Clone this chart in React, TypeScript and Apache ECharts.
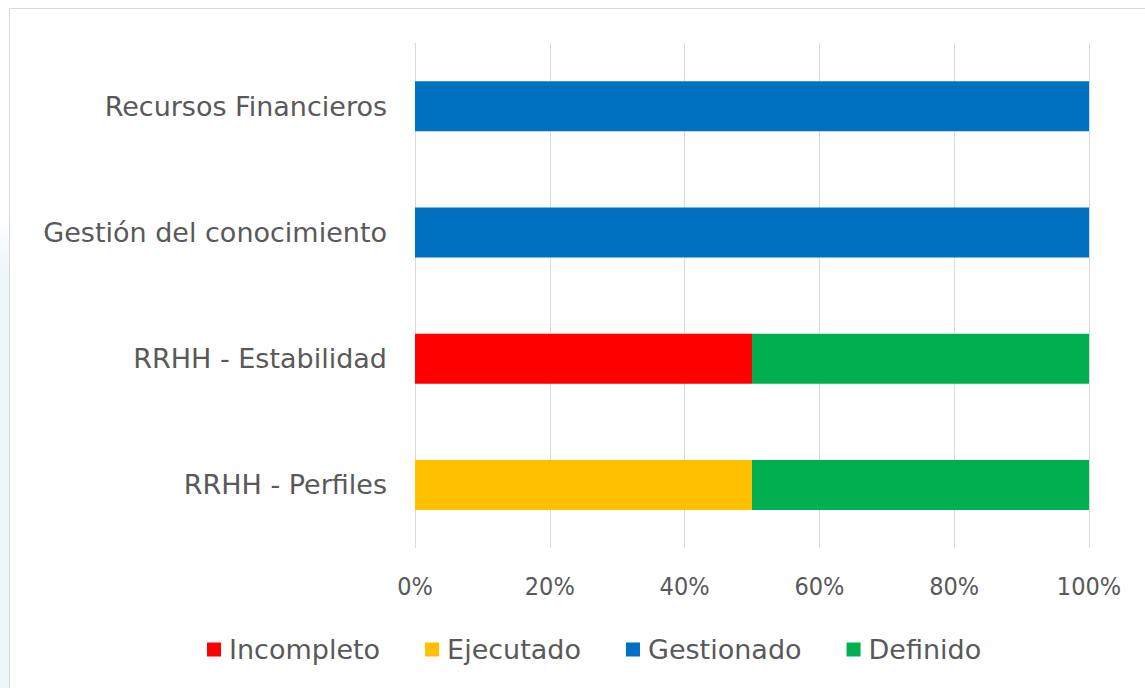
import React, { useEffect, useRef } from "react";
import * as echarts from "echarts";

const categories = ["Recursos Financieros", "Gestión del conocimiento", "RRHH - Estabilidad", "RRHH - Perfiles"];
const incompleto = [0, 0, 50, 0];
const ejecutado = [0, 0, 0, 50];
const gestionado = [100, 100, 0, 0];
const definido = [0, 0, 50, 50];
const seriesNames = ["Incompleto", "Ejecutado", "Gestionado", "Definido"];
const seriesColors = ["#FF0000", "#FFC000", "#0070C0", "#00B050"];
const xTicks = [0, 20, 40, 60, 80, 100];

const FONT = "DejaVu Sans";
const AXFONT = "DejaVu Sans Condensed";

export default function App() {
  const ref = useRef<HTMLDivElement>(null);
  useEffect(() => {
    if (!ref.current) return;
    const chart = echarts.init(ref.current, undefined, { renderer: "svg" });
    const values = [incompleto, ejecutado, gestionado, definido];
    chart.setOption({
      animation: false,
      backgroundColor: "#ffffff",
      textStyle: { fontFamily: FONT },
      graphic: [
        {
          type: "rect",
          shape: { x: 0, y: 220, width: 9, height: 468 },
          style: {
            fill: new echarts.graphic.LinearGradient(0, 0, 0, 1, [
              { offset: 0, color: "rgba(225,238,246,0)" },
              { offset: 0.15, color: "#eef5f9" },
              { offset: 1, color: "#eef5f9" },
            ]),
          },
          silent: true,
        },
        {
          type: "rect",
          shape: { x: 9.5, y: 8.5, width: 1200, height: 700 },
          style: { fill: "none", stroke: "#d9d9d9", lineWidth: 1 },
          silent: true,
        },
      ],
      grid: { left: 415, right: 56, top: 43, bottom: 140, containLabel: false },
      xAxis: {
        type: "value",
        min: xTicks[0],
        max: xTicks[xTicks.length - 1],
        interval: 20,
        axisLine: { show: false },
        axisTick: { show: false },
        splitLine: { show: true, lineStyle: { color: "#d9d9d9", width: 1 } },
        axisLabel: {
          formatter: "{value}%",
          color: "#595959",
          fontSize: 25,
          fontFamily: AXFONT,
          margin: 26,
        },
      },
      yAxis: {
        type: "category",
        data: categories,
        inverse: true,
        axisLine: { show: false },
        axisTick: { show: false },
        axisLabel: { color: "#595959", fontSize: 27, fontFamily: FONT, margin: 28 },
      },
      legend: {
        data: seriesNames,
        left: 202,
        top: 631,
        icon: "rect",
        itemWidth: 14,
        itemHeight: 14,
        itemGap: 45,
        textStyle: { color: "#595959", fontSize: 27, fontFamily: FONT, padding: [0, 0, 0, 3] },
      },
      series: seriesNames.map((name, i) => ({
        name,
        type: "bar",
        stack: "total",
        barWidth: 50,
        data: values[i],
        itemStyle: { color: seriesColors[i] },
      })),
    });
    return () => chart.dispose();
  }, []);
  return <div ref={ref} style={{ position: "fixed", left: 0, top: 0, width: 1145, height: 688 }} />;
}
